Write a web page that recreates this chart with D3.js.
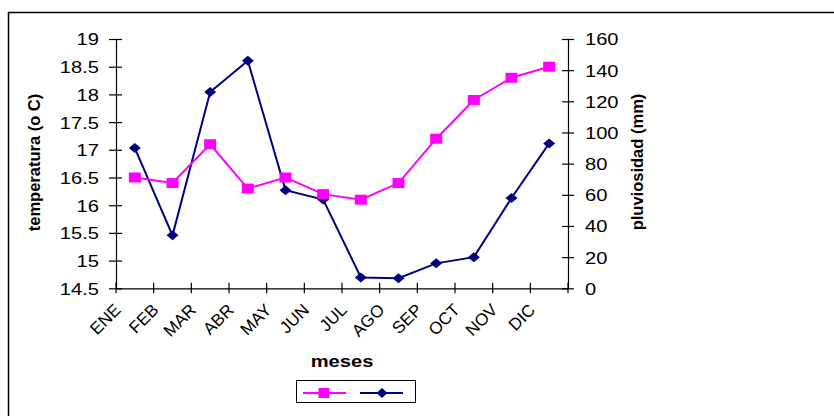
<!DOCTYPE html>
<html>
<head>
<meta charset="utf-8">
<script src="https://cdn.jsdelivr.net/npm/d3@7/dist/d3.min.js"></script>
<style>
  html, body { margin: 0; padding: 0; background: #fff; }
  svg { display: block; }
  text { font-family: "Liberation Sans", Arial, sans-serif; fill: #000; }
</style>
</head>
<body>
<svg id="chart" width="834" height="416"></svg>
<script>
// ---- data ----
const months = ["ENE","FEB","MAR","ABR","MAY","JUN","JUL","AGO","SEP","OCT","NOV","DIC"];
const temperatura = [16.5, 16.4, 17.1, 16.3, 16.5, 16.2, 16.1, 16.4, 17.2, 17.9, 18.3, 18.5];
const pluviosidad = [90, 34, 126, 146, 63, 57, 7, 6.5, 16, 20, 58, 93];
const leftTicks = [14.5, 15, 15.5, 16, 16.5, 17, 17.5, 18, 18.5, 19];
const leftTickLabels = ["14.5","15","15.5","16","16.5","17","17.5","18","18.5","19"];
const rightTicks = [0, 20, 40, 60, 80, 100, 120, 140, 160];
const rightTickLabels = ["0","20","40","60","80","100","120","140","160"];
const xTitle = "meses";
const yLeftTitle = "temperatura (o C)";
const yRightTitle = "pluviosidad (mm)";

// ---- layout ----
const plot = { left: 116, right: 568, top: 39, bottom: 288.3 };
const STRETCH = 1.22;
const FS = 16.5;
const pink = "#FF00FF", navy = "#000080";

const svg = d3.select("#chart");

// outer frame
svg.append("line").attr("x1", 8).attr("x2", 834).attr("y1", 12.5).attr("y2", 12.5)
  .attr("stroke", "#000").attr("stroke-width", 1.5);
svg.append("line").attr("x1", 8.5).attr("x2", 8.5).attr("y1", 12).attr("y2", 416)
  .attr("stroke", "#000").attr("stroke-width", 1.5);

const x = d3.scaleBand().domain(months).range([plot.left, plot.right]).padding(0);
const yL = d3.scaleLinear().domain([14.5, 19]).range([plot.bottom, plot.top]);
const yR = d3.scaleLinear().domain([0, 160]).range([plot.bottom, plot.top]);

// left axis
const gL = svg.append("g").attr("transform", `translate(${plot.left},0)`)
  .call(d3.axisLeft(yL).tickValues(leftTicks).tickSize(0).tickPadding(0)
    .tickFormat((d, i) => leftTickLabels[i]));
gL.select(".domain").attr("stroke", "#000").attr("stroke-width", 1.2);
gL.selectAll(".tick line").attr("x1", -7).attr("x2", 6).attr("stroke", "#000").attr("stroke-width", 1.2);
gL.selectAll(".tick text").attr("x", null).attr("dy", "0.36em")
  .attr("text-anchor", "end")
  .attr("transform", `translate(-17,0) scale(${STRETCH},1)`)
  .style("font-size", FS + "px").style("font-family", '"Liberation Sans", Arial, sans-serif');

// right axis
const gR = svg.append("g").attr("transform", `translate(${plot.right},0)`)
  .call(d3.axisRight(yR).tickValues(rightTicks).tickSize(0).tickPadding(0)
    .tickFormat((d, i) => rightTickLabels[i]));
gR.select(".domain").attr("stroke", "#000").attr("stroke-width", 1.2);
gR.selectAll(".tick line").attr("x1", -6).attr("x2", 6).attr("stroke", "#000").attr("stroke-width", 1.2);
gR.selectAll(".tick text").attr("x", null).attr("dy", "0.36em")
  .attr("text-anchor", "start")
  .attr("transform", `translate(17,0) scale(${STRETCH},1)`)
  .style("font-size", FS + "px").style("font-family", '"Liberation Sans", Arial, sans-serif');

// bottom axis (domain via d3 axis, boundary ticks via band scale)
const gB = svg.append("g").attr("transform", `translate(0,${plot.bottom})`)
  .call(d3.axisBottom(x).tickValues([]).tickSizeOuter(0));
gB.select(".domain").attr("stroke", "#000").attr("stroke-width", 1.2);
const bounds = months.map(m => x(m)).concat([x.range()[1]]);
gB.selectAll("line.bt").data(bounds).join("line").attr("class", "bt")
  .attr("x1", d => d).attr("x2", d => d).attr("y1", -5.5).attr("y2", 5)
  .attr("stroke", "#000").attr("stroke-width", 1.2);

// category labels (rotated)
svg.append("g").selectAll("text").data(months).join("text")
  .attr("transform", d => `translate(${x(d) + x.bandwidth() / 2 - 13},311) rotate(-45)`)
  .attr("text-anchor", "end")
  .style("font-size", "17px")
  .text(d => d);

// lines
const cx = d => x(d) + x.bandwidth() / 2;
const lineT = d3.line().x((d, i) => cx(months[i])).y(d => yL(d));
const lineP = d3.line().x((d, i) => cx(months[i])).y(d => yR(d));

svg.append("path").datum(pluviosidad).attr("d", lineP)
  .attr("fill", "none").attr("stroke", navy).attr("stroke-width", 2);
svg.append("path").datum(temperatura).attr("d", lineT)
  .attr("fill", "none").attr("stroke", pink).attr("stroke-width", 2);

const diamond = (w, h) => `M0,${-h/2}L${w/2},0L0,${h/2}L${-w/2},0Z`;

svg.append("g").selectAll("path").data(pluviosidad).join("path")
  .attr("transform", (d, i) => `translate(${cx(months[i])},${yR(d)})`)
  .attr("d", diamond(12, 10)).attr("fill", navy);

svg.append("g").selectAll("rect").data(temperatura).join("rect")
  .attr("x", (d, i) => cx(months[i]) - 6).attr("y", d => yL(d) - 5)
  .attr("width", 12).attr("height", 10).attr("fill", pink);

// axis titles
svg.append("text")
  .attr("transform", `translate(342,366.5) scale(${STRETCH},1)`)
  .attr("text-anchor", "middle").style("font-size", FS + "px").style("font-weight", "bold")
  .text(xTitle);
svg.append("text")
  .attr("transform", `translate(40,162.5) rotate(-90)`)
  .attr("text-anchor", "middle").style("font-size", FS + "px").style("font-weight", "bold")
  .text(yLeftTitle);
svg.append("text")
  .attr("transform", `translate(642.5,162) rotate(-90)`)
  .attr("text-anchor", "middle").style("font-size", FS + "px").style("font-weight", "bold")
  .text(yRightTitle);

// legend
const lg = svg.append("g");
lg.append("rect").attr("x", 296.5).attr("y", 380.5).attr("width", 119).attr("height", 22)
  .attr("fill", "#fff").attr("stroke", "#000").attr("stroke-width", 1);
lg.append("line").attr("x1", 303).attr("x2", 346).attr("y1", 393).attr("y2", 393)
  .attr("stroke", pink).attr("stroke-width", 2);
lg.append("rect").attr("x", 324 - 5.5).attr("y", 393 - 5).attr("width", 11).attr("height", 10)
  .attr("fill", pink);
lg.append("line").attr("x1", 360).attr("x2", 403).attr("y1", 393).attr("y2", 393)
  .attr("stroke", navy).attr("stroke-width", 2);
lg.append("path").attr("transform", "translate(382,393)").attr("d", diamond(11, 10))
  .attr("fill", navy);
</script>
</body>
</html>
